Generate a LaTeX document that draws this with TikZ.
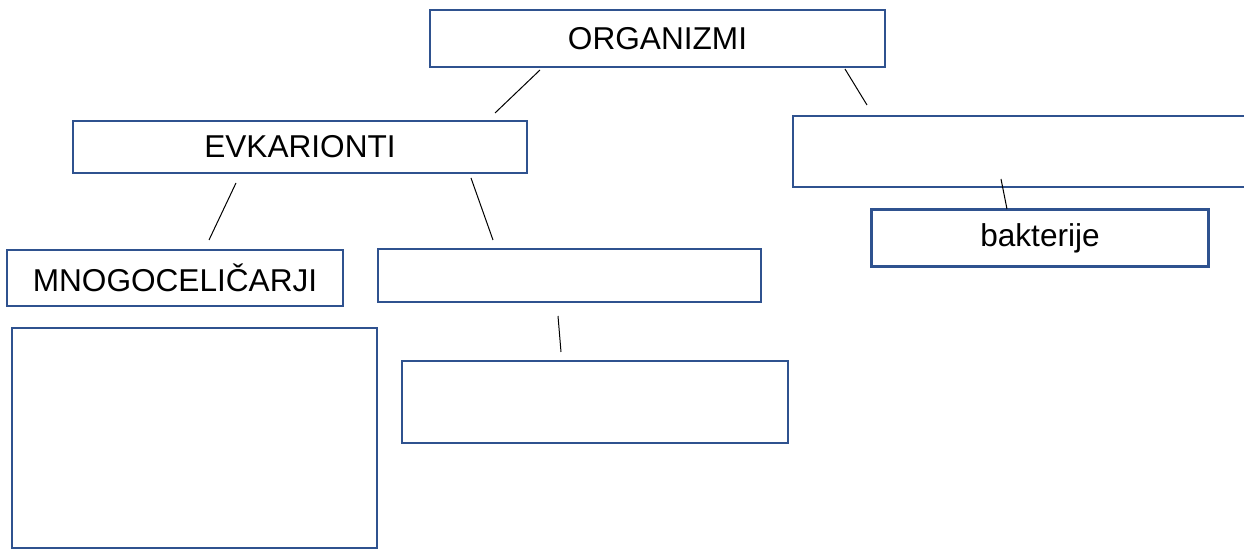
\documentclass[tikz,border=0pt]{standalone}
\usepackage{fontspec}
\setmainfont{Liberation Sans}
\usepackage{xcolor}
\usepackage{tikz}
\usetikzlibrary{positioning}
\definecolor{boxblue}{HTML}{2F528F}

\begin{document}
\begin{tikzpicture}[x=0.5pt,y=-0.5pt,
box/.style={draw=boxblue,line width=1.35pt,inner sep=0pt,font=\fontsize{15.8}{18}\selectfont}]
\useasboundingbox (0,0) rectangle (1244,549);

\node[box,minimum width=227.5pt,minimum height=28.5pt] (O) at (657.5,38.5) {ORGANIZMI};
\node[box,minimum width=227pt,minimum height=26pt] (E) at (300,147) {EVKARIONTI};
\node[box,minimum width=228.5pt,minimum height=35.5pt] (P) at (1021.5,151.5) {};
\node[box,minimum width=168.5pt,minimum height=28.5pt] (B) at (1040,238) {bakterije};

\node[box,minimum width=168pt,minimum height=28pt] (M) at (175,278) {MNOGOCELIČARJI};
\node[box,minimum width=191.5pt,minimum height=26.5pt] (U) at (569.5,275.5) {};
\node[box,minimum width=193pt,minimum height=41pt] (U1) at (595,402) {};
\node[box,minimum width=182.5pt,minimum height=110pt] (M1) at (194.5,438) {};

% povezave
\coordinate (OE1) at (540,70);   \coordinate (OE2) at (495,113);
\coordinate (OP1) at (845,69);   \coordinate (OP2) at (867,105);
\coordinate (EM1) at (236,183);  \coordinate (EM2) at (209,240);
\coordinate (EU1) at (471,178);  \coordinate (EU2) at (493,240);
\coordinate (UU1) at (558,316);  \coordinate (UU2) at (561,352);
\coordinate (PB1) at (1001,179); \coordinate (PB2) at (1007,209);

\draw[line width=0.5pt] (OE1) -- (OE2);
\draw[line width=0.5pt] (OP1) -- (OP2);
\draw[line width=0.5pt] (EM1) -- (EM2);
\draw[line width=0.5pt] (EU1) -- (EU2);
\draw[line width=0.5pt] (UU1) -- (UU2);
\draw[line width=0.5pt] (PB1) -- (PB2);

\end{tikzpicture}
\end{document}
